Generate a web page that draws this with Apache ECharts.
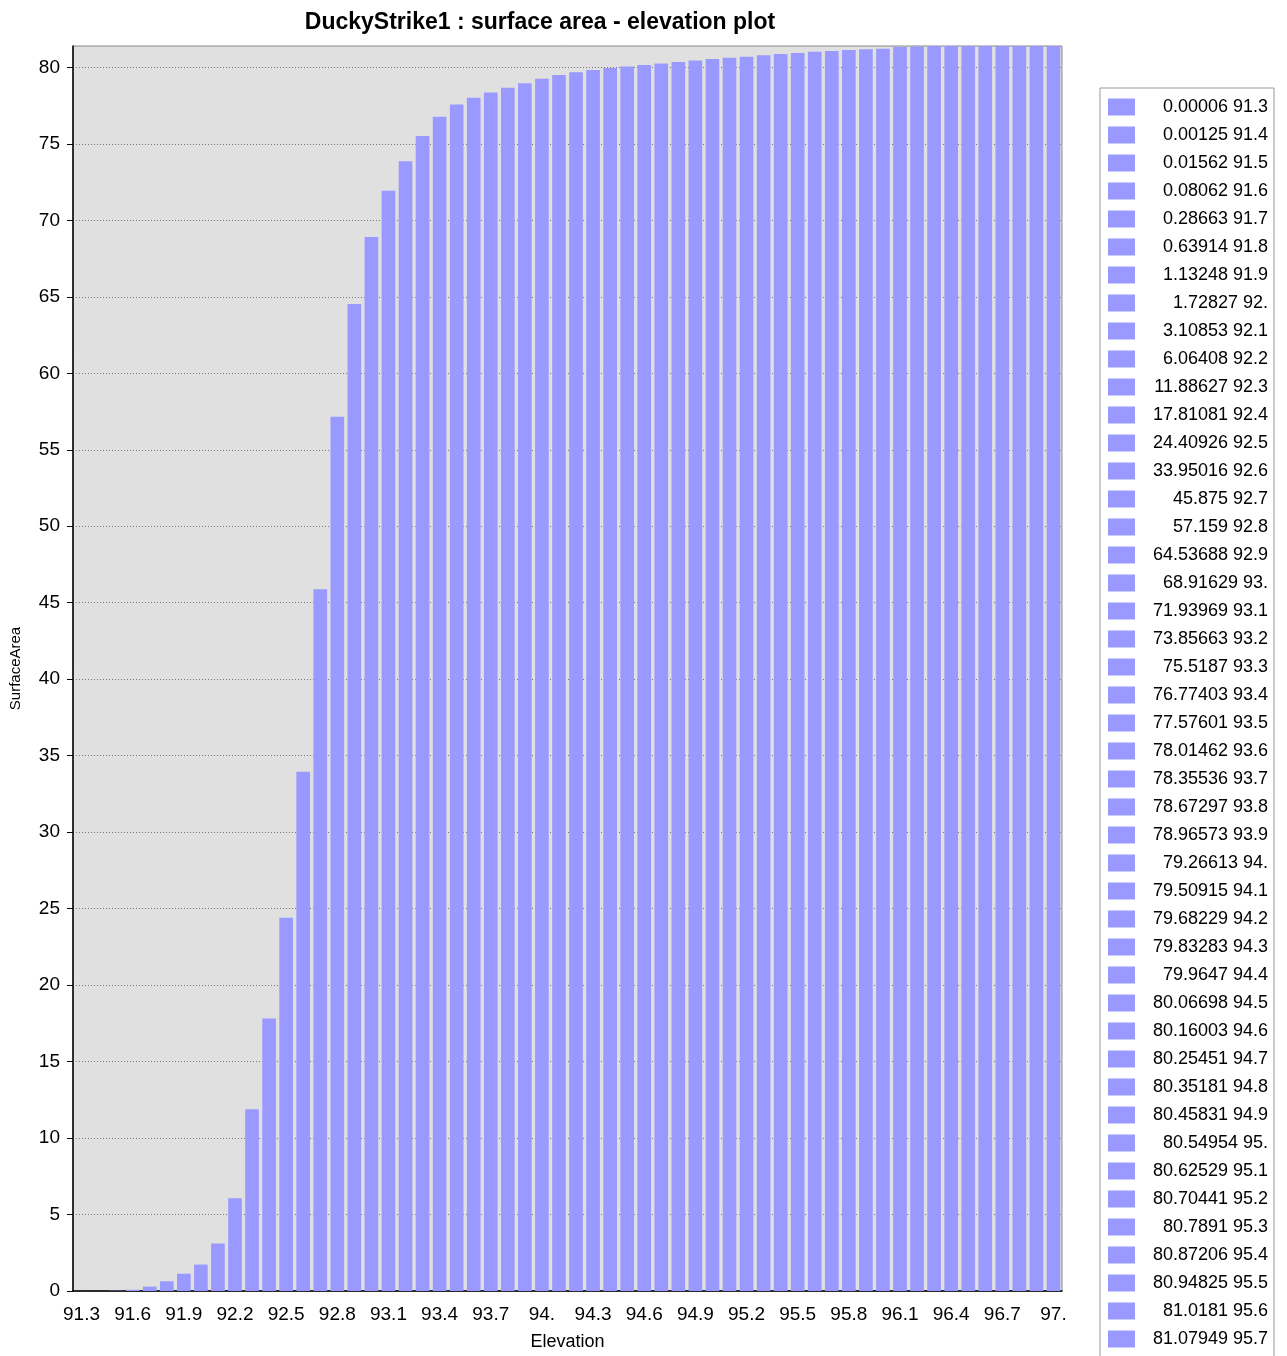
<!DOCTYPE html>
<html>
	<head>
		<meta charset="utf-8">
		<title>surface area - elevation plot</title>
		<style>
			html, body { margin: 0; padding: 0; background: #fff; }
			#chart { width: 1287px; height: 1356px; }
		</style>
	</head>
	<body>
		<div id='chart'></div>
	</body>
	<script src='https://cdn.jsdelivr.net/npm/echarts@6/dist/echarts.min.js'></script>
	<script>

	// elevation categories (labels as they appear on the axis)
	var elevation = ['91.3','91.4','91.5','91.6','91.7','91.8','91.9','92.','92.1','92.2',
		'92.3','92.4','92.5','92.6','92.7','92.8','92.9','93.','93.1','93.2',
		'93.3','93.4','93.5','93.6','93.7','93.8','93.9','94.','94.1','94.2',
		'94.3','94.4','94.5','94.6','94.7','94.8','94.9','95.','95.1','95.2',
		'95.3','95.4','95.5','95.6','95.7','95.8','95.9','96.','96.1','96.2',
		'96.3','96.4','96.5','96.6','96.7','96.8','96.9','97.'];

	// surface area per elevation (last ones)
	var surfaceArea = [0.00006, 0.00125, 0.01562, 0.08062, 0.28663, 0.63914, 1.13248, 1.72827, 3.10853, 6.06408,
		11.88627, 17.81081, 24.40926, 33.95016, 45.875, 57.159, 64.53688, 68.91629, 71.93969, 73.85663,
		75.5187, 76.77403, 77.57601, 78.01462, 78.35536, 78.67297, 78.96573, 79.26613, 79.50915, 79.68229,
		79.83283, 79.9647, 80.06698, 80.16003, 80.25451, 80.35181, 80.45831, 80.54954, 80.62529, 80.70441,
		80.7891, 80.87206, 80.94825, 81.0181, 81.07949, 81.14, 81.18, 81.22, 81.33, 81.37,
		81.4, 81.4, 81.4, 81.4, 81.4, 81.4, 81.4, 81.4];

	var yTicks = [0, 5, 10, 15, 20, 25, 30, 35, 40, 45, 50, 55, 60, 65, 70, 75, 80];

	var font = "'Liberation Sans', Arial, sans-serif";
	var barColor = '#9999ff';

	// one series per elevation so every bar gets its own legend entry
	var series = [];
	var names = [];
	for (var i = 0; i < elevation.length; i++) {
		var name = surfaceArea[i] + ' ' + elevation[i];
		names.push(name);
		var d = [];
		for (var j = 0; j < elevation.length; j++) {
			d.push(j === i ? surfaceArea[i] : '-');
		}
		series.push({
			name: name,
			type: 'bar',
			stack: 'area',
			barCategoryGap: '20%',
			itemStyle: { color: barColor },
			data: d
		});
	}

	option = {
		animation: false,
		backgroundColor: '#fff',
		title: {
			text: 'DuckyStrike1 : surface area - elevation plot',
			left: 535,
			textAlign: 'center',
			top: 6,
			textStyle: {
				fontFamily: font,
				fontSize: 23,
				fontWeight: 'bold',
				color: '#000'
			}
		},
		grid: {
			left: 68,
			right: 225,
			top: 46,
			bottom: 65,
			show: true,
			backgroundColor: '#e0e0e0',
			borderColor: '#888',
			borderWidth: 1
		},
		legend: {
			orient: 'vertical',
			left: 1100,
			top: 88,
			height: 2200,
			padding: [10, 6, 8, 8],
			backgroundColor: '#fff',
			borderColor: '#999',
			borderWidth: 1,
			borderRadius: 0,
			itemWidth: 27,
			itemHeight: 17,
			itemGap: 10,
			icon: 'rect',
			selectedMode: false,
			data: names,
			formatter: function (n) {
				return '{a|' + n + '}';
			},
			textStyle: {
				fontFamily: font,
				fontSize: 18,
				color: '#000',
				rich: {
					a: {
						width: 128,
						align: 'right',
						fontFamily: font,
						fontSize: 18,
						lineHeight: 21,
						color: '#000'
					}
				}
			}
		},
		xAxis: {
			type: 'category',
			data: elevation,
			name: 'Elevation',
			nameLocation: 'middle',
			nameGap: 42,
			nameTextStyle: { fontFamily: font, fontSize: 18, color: '#000' },
			axisLine: { lineStyle: { color: '#000', width: 1.5 } },
			axisTick: { alignWithLabel: true, interval: 2, length: 6, lineStyle: { color: '#000' } },
			axisLabel: {
				interval: 2,
				margin: 14,
				fontFamily: font,
				fontSize: 19,
				color: '#000'
			}
		},
		yAxis: {
			type: 'value',
			min: 0,
			max: 81.4,
			interval: 5,
			name: 'SurfaceArea',
			nameLocation: 'middle',
			nameGap: 50,
			nameTextStyle: { fontFamily: font, fontSize: 15, color: '#000' },
			axisLine: { show: true, lineStyle: { color: '#000', width: 1.5 } },
			axisTick: { show: true, length: 6, customValues: yTicks, lineStyle: { color: '#000' } },
			axisLabel: {
				customValues: yTicks,
				margin: 13,
				fontFamily: font,
				fontSize: 19,
				color: '#000'
			},
			splitLine: {
				show: true,
				lineStyle: { color: '#777', type: [1, 2], width: 1 }
			}
		},
		series: series
	};

	var chart = echarts.init(document.getElementById('chart'));
	chart.setOption(option);

	window.onresize = function(){
		chart.resize();
	}
	</script>
</html>
